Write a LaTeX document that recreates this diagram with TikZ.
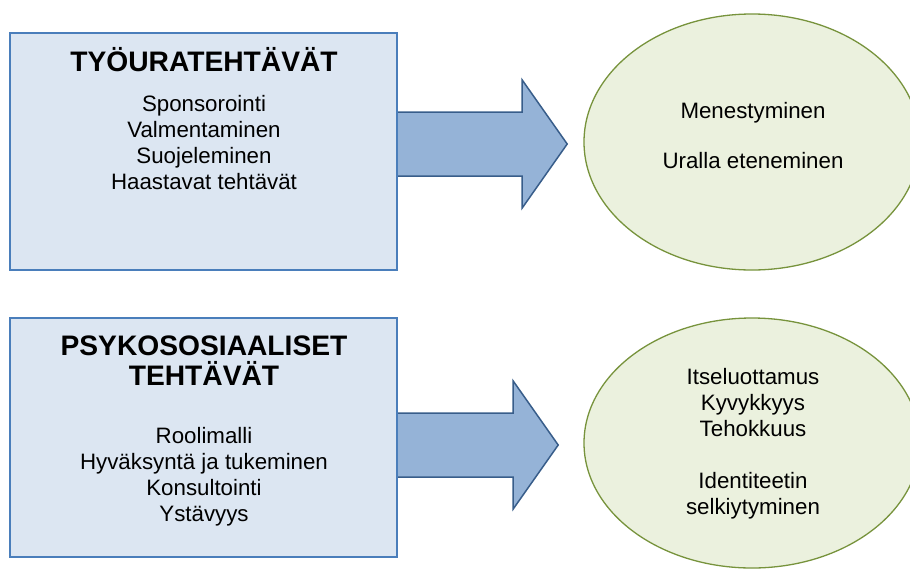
\documentclass[tikz,border=0pt]{standalone}
\usepackage{fontspec}
\setmainfont{Liberation Sans}
\usetikzlibrary{positioning, shapes.geometric}
\definecolor{boxfill}{HTML}{DCE6F2}
\definecolor{boxline}{HTML}{4A7EBB}
\definecolor{arrfill}{HTML}{95B3D7}
\definecolor{arrline}{HTML}{385D8A}
\definecolor{ellfill}{HTML}{EBF1DE}
\definecolor{ellline}{HTML}{77933C}

\begin{document}
\begin{tikzpicture}[x=1pt, y=-1pt,
    taskbox/.style={draw=boxline, fill=boxfill, line width=1.6pt, minimum width=387pt, inner sep=0pt},
    result/.style={draw=ellline, fill=ellfill, line width=1.3pt, ellipse, minimum width=336pt, inner sep=0pt},
    bigarrow/.style={draw=arrline, fill=arrfill, line width=1.5pt, line join=miter},
    title/.style={font=\fontsize{28.2}{30}\selectfont\bfseries, align=center},
    items/.style={font=\fontsize{22.3}{26}\selectfont, align=center}]
        \useasboundingbox (0,0) rectangle (910,568);
        \clip (0,0) rectangle (910,568);
        % boxes (only named here, drawn after the arrows)
        \path node[minimum width=387pt, minimum height=237pt, inner sep=0pt] (b1) at (203.5,151.5) {};
        \path node[minimum width=387pt, minimum height=239pt, inner sep=0pt] (b2) at (203.5,437.5) {};
        % arrows
        \filldraw[bigarrow] (b1.east) ++(0,-39.5) -- ++(125,0) -- ++(0,-32) -- ++(45,64) -- ++(-45,64) -- ++(0,-32) -- ++(-125,0);
        \filldraw[bigarrow] (b2.east) ++(0,-24.5) -- ++(116,0) -- ++(0,-32) -- ++(45,64) -- ++(-45,64) -- ++(0,-32) -- ++(-116,0);
        % career tasks
        \node[taskbox, minimum height=237pt] (career) at (b1) {};
        \node[title] (careerT) at (204,60) {TYÖURATEHTÄVÄT};
        \node[items] (careerI) at (204,143) {Sponsorointi\\Valmentaminen\\Suojeleminen\\Haastavat tehtävät};
        % psychosocial tasks
        \node[taskbox, minimum height=239pt] (psycho) at (b2) {};
        \node[title] (psychoT) at (204,361) {PSYKOSOSIAALISET\\TEHTÄVÄT};
        \node[items] (psychoI) at (204,477) {Roolimalli\\Hyväksyntä ja tukeminen\\Konsultointi\\Ystävyys};
        % outcomes
        \node[result, minimum height=256pt] (success) at (752,142) {};
        \node[items, font=\fontsize{22.3}{25}\selectfont] (successT) at (753,136) {Menestyminen\\[25pt]Uralla eteneminen};
        \node[result, minimum height=250pt] (growth) at (752,443) {};
        \node[items] (growthT) at (753,444) {Itseluottamus\\Kyvykkyys\\Tehokkuus\\[26pt]Identiteetin\\selkiytyminen};
      \end{tikzpicture}
\end{document}
